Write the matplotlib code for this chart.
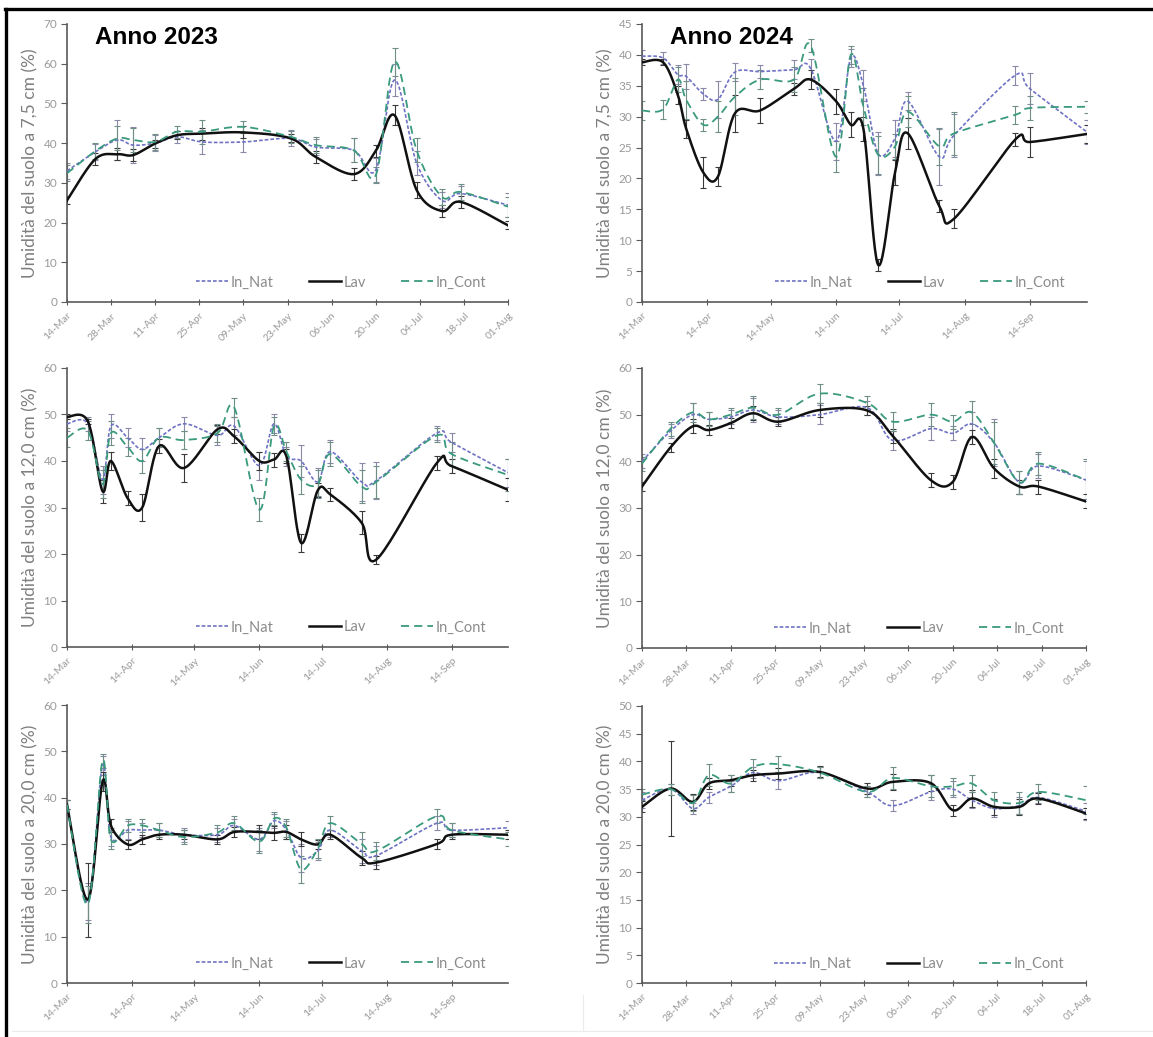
import datetime as dt

import matplotlib.dates as mdates
import matplotlib.pyplot as plt
import numpy as np
from matplotlib.lines import Line2D

# sampling dates (biweekly-axis panels and monthly-axis panels)
DATES_A = ["14-Mar", "23-Mar", "30-Mar", "04-Apr", "11-Apr", "18-Apr", "26-Apr", "09-May",
           "24-May", "01-Jun", "13-Jun", "20-Jun", "26-Jun", "03-Jul", "11-Jul", "17-Jul",
           "01-Aug"]
DATES_B = ["14-Mar", "24-Mar", "31-Mar", "04-Apr", "12-Apr", "19-Apr", "27-Apr", "09-May",
           "25-May", "02-Jun", "14-Jun", "21-Jun", "27-Jun", "04-Jul", "12-Jul", "18-Jul",
           "02-Aug", "09-Aug", "07-Sep", "14-Sep", "11-Oct"]
TICKS_A = ["14-Mar", "28-Mar", "11-Apr", "25-Apr", "09-May", "23-May", "06-Jun", "20-Jun",
           "04-Jul", "18-Jul", "01-Aug"]
TICKS_B = ["14-Mar", "14-Apr", "14-May", "14-Jun", "14-Jul", "14-Aug", "14-Sep"]

# 2023, 7.5 cm
nat_23_75 = [33, 37.8, 40.8, 39.5, 40, 41.6, 40.3, 40.3, 41.2, 39, 38.2, 33.2, 55.9, 35, 25.6, 27.3, 24.4]
lav_23_75 = [25.6, 36, 37.2, 37, 39.9, 42, 42.4, 42.7, 41.2, 36.5, 32.2, 38, 47, 28.2, 22.9, 25.2, 19.3]
cont_23_75 = [32.4, 38, 41.2, 40.8, 40.3, 42.9, 42.9, 44.1, 41.6, 39.5, 38.2, 31.9, 60.5, 38.2, 26.5, 27.7, 24]
nat_23_75_err = [2, 2, 5, 4.5, 2, 1.5, 3, 2.5, 2, 2, 3, 3, 4, 3, 2, 2, 3]
lav_23_75_err = [1, 1.5, 1.5, 1.5, 1, 1, 1.5, 1.5, 1, 1.5, 1.5, 1.5, 2.5, 2, 1.5, 1.5, 1]
cont_23_75_err = [2, 2, 3, 3, 2, 1.5, 3, 1.5, 1.5, 2, 3, 2, 3.5, 3, 2, 2, 2.5]

# 2024, 7.5 cm
nat_24_75 = [39.8, 39.5, 36.8, 36.5, 33.7, 32.8, 37.2, 37.3, 37.6, 37.8, 26, 39.5, 35, 24, 26.5,
             32.5, 23.5, 27, 36.7, 34.5, 27.5]
lav_24_75 = [38.8, 38.8, 33.5, 28, 21, 20.3, 30.5, 31, 34.5, 36, 32.5, 28.7, 28, 6, 21, 27.3,
             15.5, 13.5, 26.3, 25.9, 27.2]
cont_24_75 = [31, 31.2, 36, 32.7, 28.7, 30, 33.2, 36, 36, 41.5, 23.5, 40, 31.6, 23.8, 25.2, 30.8,
              25.2, 27.3, 30.3, 31.4, 31.6]
nat_24_75_err = [1, 1, 1.5, 2, 1, 3, 1.5, 1, 1.5, 1.5, 3, 1.5, 2.5, 3.5, 3, 1.5, 4.5, 3.5, 1.5, 2.5, 2]
lav_24_75_err = [0.5, 0.5, 1.5, 1.5, 2.5, 1.5, 3, 2, 1, 1.5, 2, 2, 2, 1, 2, 2.5, 1, 1.5, 1, 2.5, 1.5]
cont_24_75_err = [1.5, 1.5, 2, 3, 1, 2.5, 3, 1.5, 2, 1, 2.5, 1.5, 3, 3, 2, 2.5, 3, 3.5, 1.5, 2, 1]

# 2023, 12.0 cm
nat_23_12 = [48, 48, 36, 47.5, 45, 42.5, 45, 48, 45.5, 47.5, 39, 48, 41, 40, 35.5, 42, 35.5, 35.8,
             46, 44, 37.5]
lav_23_12 = [49.5, 48.5, 33.5, 40, 32, 30, 43.2, 38.5, 46.8, 45.3, 40, 40.3, 41, 22.4, 33.7, 32.8,
             26.7, 18.8, 39.6, 38.9, 33.8]
cont_23_12 = [45, 46.5, 35, 46, 43, 40, 45, 44.5, 46, 51.5, 29.5, 47.5, 42, 36, 35, 41.5, 34.5,
              35.5, 45.5, 41.5, 37]
nat_23_12_err = [1.5, 1.5, 3, 2.5, 2, 2.5, 2, 1.5, 2, 2, 3, 2, 2, 3.5, 3, 2.5, 4, 4, 1.5, 2, 3]
lav_23_12_err = [0.5, 0.5, 2.5, 2, 1.5, 3, 1.5, 3, 1, 1.5, 2, 1.5, 1.5, 2, 1.5, 1.5, 2.5, 1, 1.5, 1.5, 2.5]
cont_23_12_err = [2, 2, 3, 2.5, 2, 2.5, 2, 2, 2, 2, 2.5, 2, 2, 3, 3, 2.5, 3.5, 3.5, 1.5, 2.5, 3.5]

# 2024, 12.0 cm
nat_24_12 = [40, 46.5, 50, 49, 49.5, 51, 49.5, 50, 51.5, 44.5, 47, 46, 48, 44, 35.5, 39, 36]
lav_24_12 = [34.6, 43, 47.5, 46.7, 48.2, 50.3, 48.5, 51, 50.9, 45.5, 36, 35.6, 45.2, 38.5, 34.6, 34.6, 31.4]
cont_24_12 = [39.5, 47, 50.5, 49, 50, 51.5, 50, 54.5, 52.5, 48.5, 50, 48.5, 50.5, 44, 35.5, 39.5, 36]
nat_24_12_err = [1.5, 1.5, 2.5, 1.5, 1.5, 2.5, 1.5, 2, 1.5, 2, 2.5, 1.5, 2.5, 5, 2.5, 2.5, 4]
lav_24_12_err = [1, 1, 1.5, 1, 1, 1.5, 1, 1.5, 1, 1.5, 1.5, 1.5, 1.5, 2, 1.5, 1.5, 1.5]
cont_24_12_err = [1.5, 1.5, 2, 1.5, 1.5, 2.5, 1.5, 2, 1.5, 2, 2.5, 1.5, 2.5, 4.5, 2.5, 2.5, 4.5]

# 2023, 20.0 cm
nat_23_20 = [38.5, 17.5, 47, 31.5, 33, 33, 33, 32, 32, 34, 31, 35, 33, 27, 28.5, 33, 28.5, 27.5,
             34.5, 33, 33.5]
lav_23_20 = [38.5, 18, 43.5, 34, 29.9, 31, 32, 32, 31, 32.6, 32.6, 32.4, 32.6, 31, 29.9, 32, 27, 26,
             30, 32, 32]
cont_23_20 = [38.5, 17, 48, 31, 34, 34, 33, 31.5, 32.5, 34.5, 30.5, 35.5, 33.5, 24.5, 29, 34.5, 30,
              28.5, 36, 33, 31]
nat_23_20_err = [1, 4, 2, 2, 2, 1.5, 1.5, 1.5, 1.5, 1.5, 2.5, 1.5, 2, 3, 2, 1.5, 2.5, 2, 1.5, 1.5, 1.5]
lav_23_20_err = [1, 8, 2, 1.5, 1, 1, 1, 1, 1, 1, 1.5, 1.5, 1.5, 1.5, 1, 1, 1.5, 1.5, 1, 1, 1]
cont_23_20_err = [1, 4, 1.5, 2, 1.5, 1.5, 1.5, 1.5, 1.5, 1.5, 2.5, 1.5, 2, 3, 2, 1.5, 2.5, 2, 1.5, 1.5, 1.5]

# 2024, 20.0 cm
nat_24_20 = [33, 35, 31.5, 33.5, 35.5, 38, 36.5, 38, 34.5, 32, 34.5, 35, 33, 31.5, 32, 33.5, 31]
lav_24_20 = [31.8, 35.1, 32.7, 36, 36.6, 37.5, 37.8, 38.1, 35.1, 36.3, 36.1, 31.2, 33.3, 31.8, 31.8, 33.3, 30.6]
cont_24_20 = [34, 35, 32.5, 37.5, 36, 39, 39.5, 38, 34.5, 37, 35.5, 35.5, 36, 33, 32.5, 34.5, 33]
nat_24_20_err = [1.5, 1, 1, 1, 1, 1, 1.5, 1, 1, 1, 1.5, 1.5, 1.5, 1.5, 1.5, 1, 1.5]
lav_24_20_err = [1, 8.5, 1.5, 1, 1, 1, 1, 1, 1, 1.5, 1.5, 1, 1.5, 1.5, 1.5, 1, 1]
cont_24_20_err = [1, 1, 1.5, 2, 1.5, 1.5, 1.5, 1, 1, 2, 2, 1.5, 1.5, 1.5, 2, 1.5, 2.5]

NAT_COLOR = "#6f72c4"
LAV_COLOR = "#111111"
CONT_COLOR = "#3a9a7e"
AXIS_COLOR = "#5a5a5a"
TEXT_COLOR = "#9a9a9a"


def to_num(labels):
    return np.array([mdates.date2num(dt.datetime.strptime(s + "-2023", "%d-%b-%Y")) for s in labels])


def smooth(x, y, n=24):
    # Bezier smoothing through every point (same idea as a spreadsheet "smoothed line")
    x = np.asarray(x, float)
    y = np.asarray(y, float)
    px = np.concatenate([[x[0]], x, [x[-1]]])
    py = np.concatenate([[y[0]], y, [y[-1]]])
    t = np.linspace(0, 1, n)[:, None]
    xs, ys = [], []
    for i in range(1, len(px) - 2):
        p0 = np.array([px[i], py[i]])
        p3 = np.array([px[i + 1], py[i + 1]])
        p1 = p0 + (np.array([px[i + 1], py[i + 1]]) - np.array([px[i - 1], py[i - 1]])) / 6
        p2 = p3 - (np.array([px[i + 2], py[i + 2]]) - np.array([px[i], py[i]])) / 6
        b = ((1 - t) ** 3) * p0 + 3 * ((1 - t) ** 2) * t * p1 + 3 * (1 - t) * t ** 2 * p2 + t ** 3 * p3
        xs.append(b[:, 0])
        ys.append(b[:, 1])
    return np.concatenate(xs), np.concatenate(ys)


def draw_panel(ax, dates, ticks, end, series, ymax, ystep, ylabel, title=None):
    x = to_num(dates)
    styles = [
        ("In_Nat", NAT_COLOR, (0, (2.2, 1.2)), 1.2, "#8a8aa8"),
        ("Lav", LAV_COLOR, "-", 1.8, "#3a3a3a"),
        ("In_Cont", CONT_COLOR, (0, (4.5, 2.8)), 1.3, "#6f8f86"),
    ]
    handles = []
    for (name, color, ls, lw, ecol), (vals, errs) in zip(styles, series):
        ax.errorbar(x, vals, yerr=errs, fmt="none", ecolor=ecol, elinewidth=0.8,
                    capsize=2.2, capthick=0.8, zorder=2)
        sx, sy = smooth(x, vals)
        ax.plot(sx, sy, color=color, linestyle=ls, linewidth=lw, zorder=3)
        handles.append(Line2D([], [], color=color, linestyle=ls, linewidth=lw, label=name))

    ax.set_xlim(x[0], to_num([end])[0])
    ax.set_ylim(0, ymax)
    ax.set_yticks(np.arange(0, ymax + 0.1, ystep))
    ax.set_xticks(to_num(ticks))
    ax.set_xticklabels(ticks, rotation=45, ha="right", rotation_mode="anchor")

    for side in ("top", "right"):
        ax.spines[side].set_visible(False)
    for side in ("left", "bottom"):
        ax.spines[side].set_color(AXIS_COLOR)
        ax.spines[side].set_linewidth(1.2)
    ax.tick_params(axis="y", direction="out", length=4, color=AXIS_COLOR, labelcolor=TEXT_COLOR,
                   labelsize=8.5, pad=3)
    ax.tick_params(axis="x", direction="inout", length=5, color=AXIS_COLOR, labelcolor=TEXT_COLOR,
                   labelsize=7.5, pad=4)
    ax.set_ylabel(ylabel, color="#7f7f7f", fontsize=12.5, labelpad=4)

    leg = ax.legend(handles=handles, loc="center right", bbox_to_anchor=(0.965, 0.07), ncol=3,
                    frameon=False, fontsize=10.5, handlelength=2.2, columnspacing=2.4,
                    handletextpad=0.2, borderaxespad=0)
    for txt in leg.get_texts():
        txt.set_color("#8c8c8c")

    if title:
        ax.text(0.063, 0.95, title, transform=ax.transAxes, fontsize=17.5, fontweight="bold",
                family="Liberation Sans", va="center", ha="left", color="black")


plt.rcParams["font.family"] = ["Lato", "DejaVu Sans"]

W, H = 1153, 1037
fig = plt.figure(figsize=(W / 100, H / 100), dpi=100)


def box(x0, x1, y0, y1):
    return [x0 / W, 1 - y1 / H, (x1 - x0) / W, (y1 - y0) / H]


ax1 = fig.add_axes(box(67, 508, 24, 302))
ax2 = fig.add_axes(box(642, 1087, 24, 302))
ax3 = fig.add_axes(box(67, 508, 368, 647))
ax4 = fig.add_axes(box(642, 1086, 368, 648))
ax5 = fig.add_axes(box(67, 508, 705, 983))
ax6 = fig.add_axes(box(642, 1086, 706, 983))

draw_panel(ax1, DATES_A, TICKS_A, "01-Aug",
           [(nat_23_75, nat_23_75_err), (lav_23_75, lav_23_75_err), (cont_23_75, cont_23_75_err)],
           70, 10, "Umidità del suolo a 7,5 cm (%)", "Anno 2023")
draw_panel(ax2, DATES_B, TICKS_B, "11-Oct",
           [(nat_24_75, nat_24_75_err), (lav_24_75, lav_24_75_err), (cont_24_75, cont_24_75_err)],
           45, 5, "Umidità del suolo a 7,5 cm (%)", "Anno 2024")
draw_panel(ax3, DATES_B, TICKS_B, "11-Oct",
           [(nat_23_12, nat_23_12_err), (lav_23_12, lav_23_12_err), (cont_23_12, cont_23_12_err)],
           60, 10, "Umidità del suolo a 12,0 cm (%)")
draw_panel(ax4, DATES_A, TICKS_A, "01-Aug",
           [(nat_24_12, nat_24_12_err), (lav_24_12, lav_24_12_err), (cont_24_12, cont_24_12_err)],
           60, 10, "Umidità del suolo a 12,0 cm (%)")
draw_panel(ax5, DATES_B, TICKS_B, "11-Oct",
           [(nat_23_20, nat_23_20_err), (lav_23_20, lav_23_20_err), (cont_23_20, cont_23_20_err)],
           60, 10, "Umidità del suolo a 20,0 cm (%)")
draw_panel(ax6, DATES_A, TICKS_A, "01-Aug",
           [(nat_24_20, nat_24_20_err), (lav_24_20, lav_24_20_err), (cont_24_20, cont_24_20_err)],
           50, 5, "Umidità del suolo a 20,0 cm (%)")

# frame lines around the composite
fig.add_artist(Line2D([5 / W, 1], [1 - 9 / H, 1 - 9 / H], color="black", linewidth=2.4))
fig.add_artist(Line2D([6 / W, 6 / W], [1 - 9 / H, 1 - 1035 / H], color="black", linewidth=2.4))
fig.add_artist(Line2D([12 / W, 1], [1 - 1031 / H, 1 - 1031 / H], color="#ebebeb", linewidth=0.8))
fig.add_artist(Line2D([583 / W, 583 / W], [1 - 995 / H, 1 - 1031 / H], color="#ebebeb", linewidth=0.8))

fig.savefig("out.png", dpi=100)
